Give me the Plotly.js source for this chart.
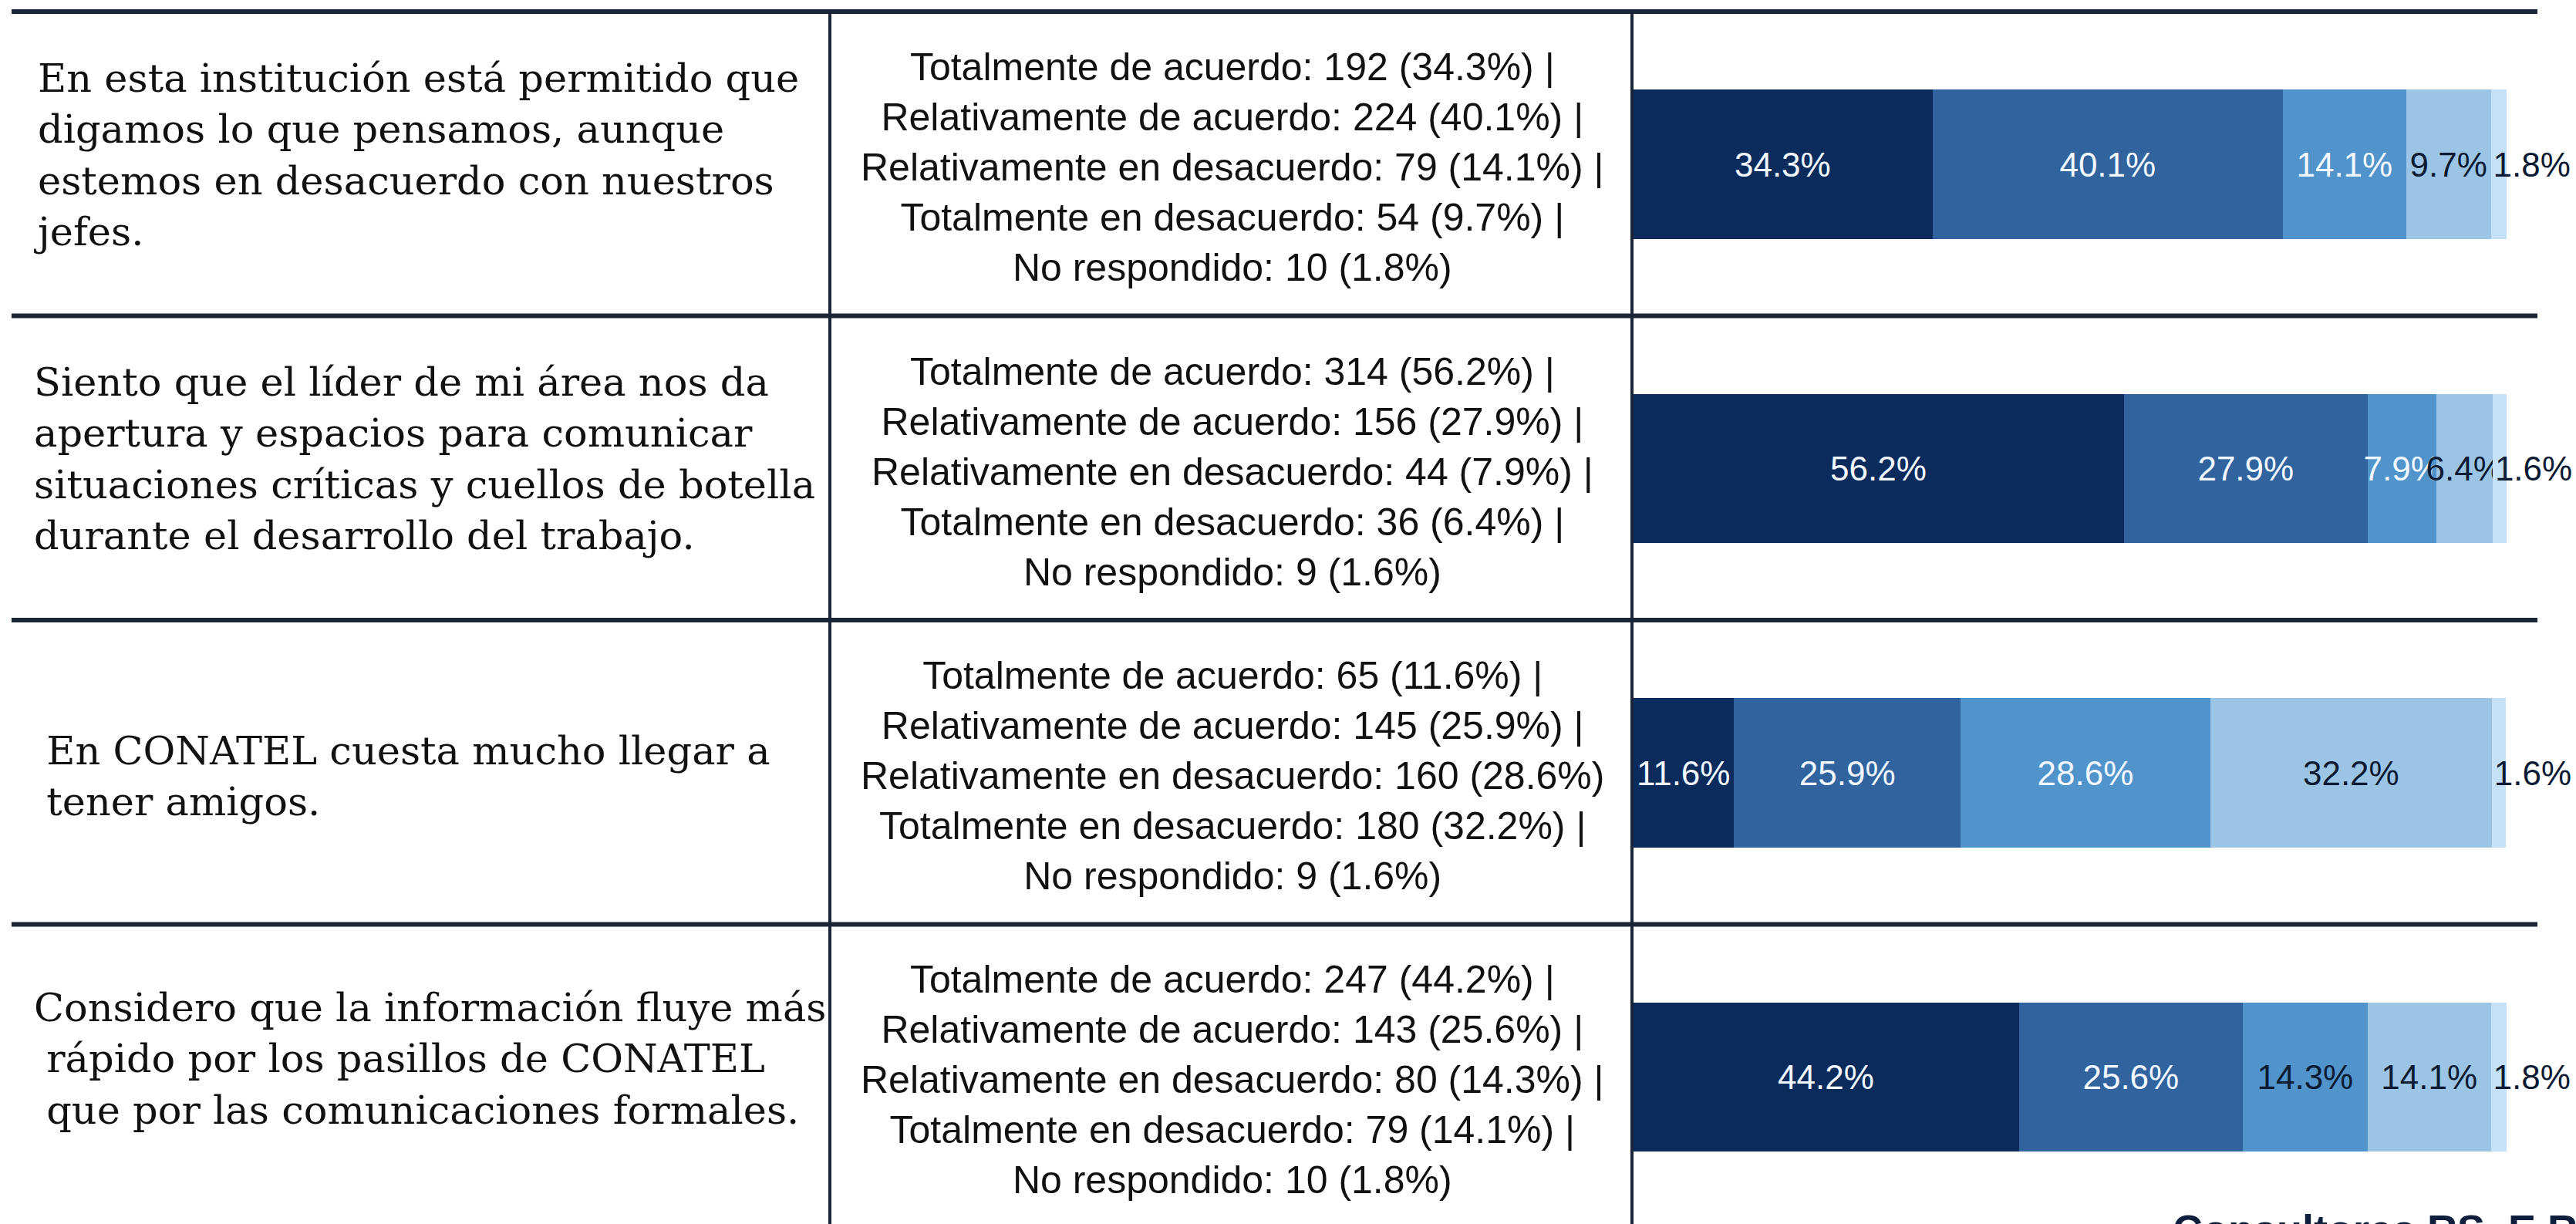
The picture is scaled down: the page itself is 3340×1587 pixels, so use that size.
<!DOCTYPE html>
<html>
<head>
<meta charset="utf-8">
<script src="https://cdn.plot.ly/plotly-3.0.1.min.js"></script>
<style>
  body { margin: 0; background: #fff; }
  #grafico { width: 3340px; height: 1587px; }
</style>
</head>
<body>
<div id="grafico"></div>
<script>
// preguntas de la encuesta (columna izquierda)
var preguntas = [
    'En esta institución está permitido que<br>digamos lo que pensamos, aunque<br>estemos en desacuerdo con nuestros<br>jefes.',
    'Siento que el líder de mi área nos da<br>apertura y espacios para comunicar<br>situaciones críticas y cuellos de botella<br>durante el desarrollo del trabajo.',
    '\u00a0En CONATEL cuesta mucho llegar a<br>\u00a0tener amigos.',
    'Considero que la información fluye más<br>\u00a0rápido por los pasillos de CONATEL<br>\u00a0que por las comunicaciones formales.'
];

var respuestas = ['Totalmente de acuerdo', 'Relativamente de acuerdo', 'Relativamente en desacuerdo', 'Totalmente en desacuerdo', 'No respondido'];

// cantidades
var totDeAcuerdo = [192, 314, 65, 247];
var relDeAcuerdo = [224, 156, 145, 143];
var relEnDesacuerdo = [79, 44, 160, 80];
var totEnDesacuerdo = [54, 36, 180, 79];
var noRespondido = [10, 9, 9, 10];

// porcentajes
var pctTotDeAcuerdo = [34.3, 56.2, 11.6, 44.2];
var pctRelDeAcuerdo = [40.1, 27.9, 25.9, 25.6];
var pctRelEnDesacuerdo = [14.1, 7.9, 28.6, 14.3];
var pctTotEnDesacuerdo = [9.7, 6.4, 32.2, 14.1];
var pctNoRespondido = [1.8, 1.6, 1.6, 1.8];

var cantidades = [totDeAcuerdo, relDeAcuerdo, relEnDesacuerdo, totEnDesacuerdo, noRespondido];
var porcentajes = [pctTotDeAcuerdo, pctRelDeAcuerdo, pctRelEnDesacuerdo, pctTotEnDesacuerdo, pctNoRespondido];

var colores = ['#0b2b5d', '#31649e', '#5193cb', '#9cc5e5', '#c5e1f7'];
var blanco = '#f2f8ff';
var oscuro = '#0b1b33';
var coloresTexto = [
    [blanco, blanco, blanco, blanco],
    [blanco, blanco, blanco, blanco],
    [blanco, blanco, blanco, oscuro],
    [oscuro, oscuro, oscuro, oscuro],
    [oscuro, oscuro, oscuro, oscuro]
];

var W = 3340, H = 1587;
function px(x) { return x / W; }
function py(y) { return 1 - y / H; }

var data = [];
for (var k = 0; k < respuestas.length; k++) {
    data.push({
        type: 'bar',
        orientation: 'h',
        name: respuestas[k],
        y: preguntas,
        x: porcentajes[k],
        text: porcentajes[k].map(function (p) { return p.toFixed(1) + '%'; }),
        textposition: 'inside',
        insidetextanchor: k === 4 ? 'start' : 'middle',
        textangle: 0,
        constraintext: 'none',
        cliponaxis: false,
        textfont: { family: 'Liberation Sans, Arial, sans-serif', size: 44, color: coloresTexto[k] },
        marker: { color: colores[k], line: { width: 0 } },
        hoverinfo: 'skip'
    });
}

// texto de la columna central, armado con los datos
var resumen = preguntas.map(function (q, i) {
    var lineas = [];
    for (var k = 0; k < respuestas.length; k++) {
        var s = respuestas[k] + ': ' + cantidades[k][i] + ' (' + porcentajes[k][i].toFixed(1) + '%)';
        if (k < 4 && !(i === 2 && k === 2)) s += ' |';
        lineas.push(s);
    }
    return lineas.join('<br>');
});

var filaAlto = 394.5;
var centroIzq = [201, 595, 1006, 1373];
var centroMed = [217, 611.5, 1006, 1400];

var annotations = [];
preguntas.forEach(function (q, i) {
    annotations.push({
        xref: 'paper', yref: 'paper',
        x: px(42), y: py(centroIzq[i]),
        xanchor: 'left', yanchor: 'middle', align: 'left',
        text: q, showarrow: false,
        font: { family: 'DejaVu Serif, Georgia, serif', size: 51, color: '#111' }
    });
    annotations.push({
        xref: 'paper', yref: 'paper',
        x: px(1598), y: py(centroMed[i]),
        xanchor: 'center', yanchor: 'middle', align: 'center',
        text: resumen[i], showarrow: false,
        font: { family: 'Liberation Sans, Arial, sans-serif', size: 50, color: '#111' }
    });
});
annotations.push({
    xref: 'paper', yref: 'paper',
    x: px(2815), y: py(1562),
    xanchor: 'left', yanchor: 'top', align: 'left',
    text: '<b>Consultores RS, E.R.L.</b>', showarrow: false,
    font: { family: 'Liberation Sans, Arial, sans-serif', size: 54, color: '#0d1f3c' }
});

// lineas de la tabla
var shapes = [];
[15, 15 + filaAlto, 15 + 2 * filaAlto, 15 + 3 * filaAlto].forEach(function (y) {
    shapes.push({
        type: 'line', xref: 'paper', yref: 'paper',
        x0: px(15), x1: px(3290), y0: py(y), y1: py(y),
        line: { color: '#1a2638', width: 6 }
    });
});
[1076, 2116].forEach(function (x) {
    shapes.push({
        type: 'line', xref: 'paper', yref: 'paper',
        x0: px(x), x1: px(x), y0: py(15), y1: 0,
        line: { color: '#1a2638', width: 4 }
    });
});

var layout = {
    width: W,
    height: H,
    margin: { l: 0, r: 0, t: 0, b: 0 },
    barmode: 'stack',
    bargap: 0.51,
    showlegend: false,
    paper_bgcolor: '#ffffff',
    plot_bgcolor: '#ffffff',
    xaxis: { domain: [2117 / W, 3250 / W], range: [0, 100], visible: false, fixedrange: true },
    yaxis: {
        type: 'category',
        range: [(H - 213) / filaAlto, -213 / filaAlto],
        visible: false,
        fixedrange: true
    },
    shapes: shapes,
    annotations: annotations
};

let config = {
    displayModeBar: false,
    displaylogo: false
};
Plotly.newPlot('grafico', data, layout, config);
</script>
</body>
</html>
